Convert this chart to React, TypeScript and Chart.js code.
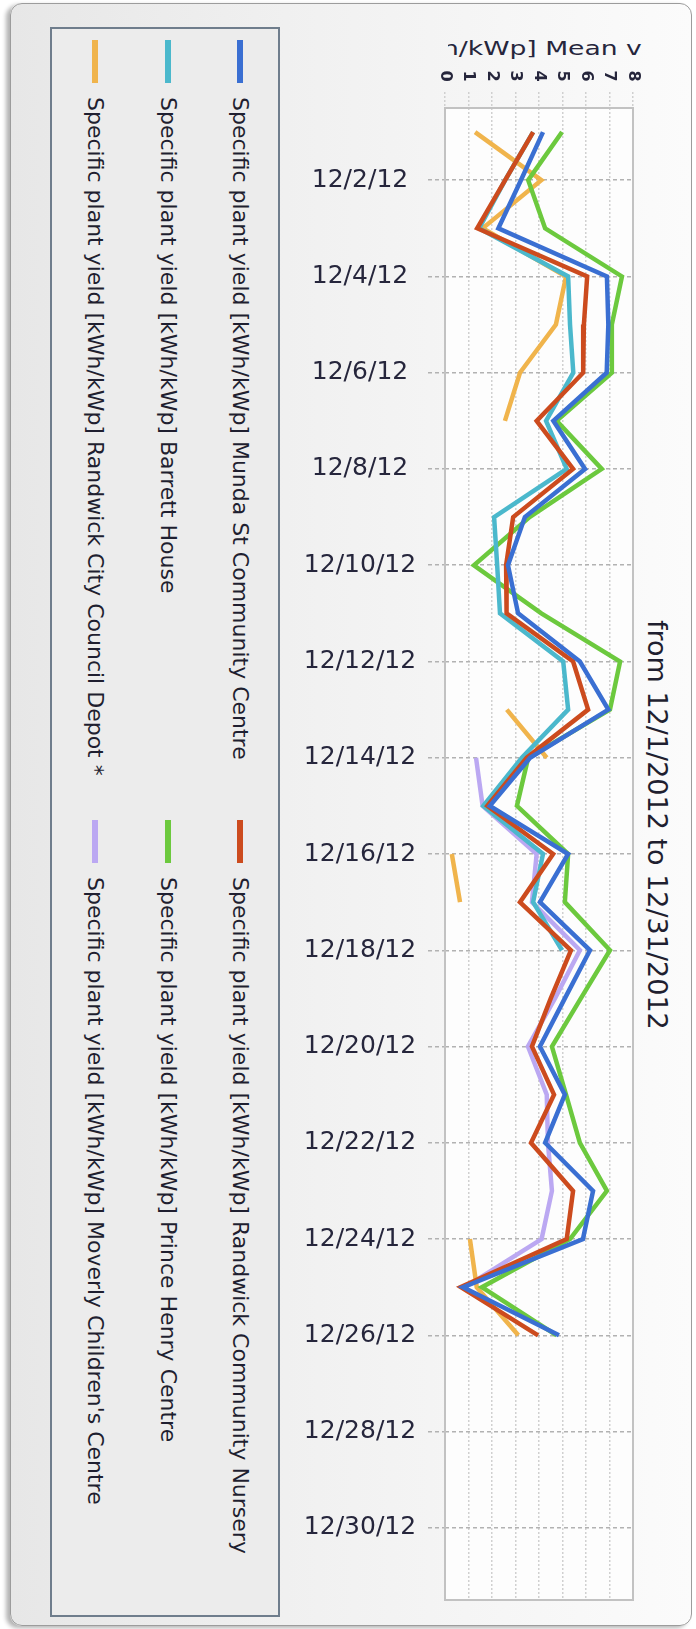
import React, { useEffect, useRef } from "react";
import { Chart, registerables } from "chart.js";

Chart.register(...registerables);

const FONT = '"DejaVu Sans", Verdana, sans-serif';

const dateLabels = [
  "12/1/12", "12/2/12", "12/3/12", "12/4/12", "12/5/12", "12/6/12", "12/7/12", "12/8/12",
  "12/9/12", "12/10/12", "12/11/12", "12/12/12", "12/13/12", "12/14/12", "12/15/12", "12/16/12",
  "12/17/12", "12/18/12", "12/19/12", "12/20/12", "12/21/12", "12/22/12", "12/23/12", "12/24/12",
  "12/25/12", "12/26/12", "12/27/12", "12/28/12", "12/29/12", "12/30/12", "12/31/12",
];

const valueTicks = ["0", "1", "2", "3", "4", "5", "6", "7", "8"];

const mundaSt = [4.17, 3.23, 2.27, 6.89, 6.95, 6.88, 4.61, 5.96, 3.4, 2.68, 3.11, 5.74, 6.95, 3.62, 1.91, 5.24, 4.04, 6.17, 5.1, 4.04, 5.1, 4.26, 6.3, 5.87, 0.77, 4.85, null, null, null, null, null];
const randwickNursery = [3.75, 2.56, 1.37, 6.05, 5.91, 5.88, 3.9, 5.45, 2.9, 2.6, 2.62, 5.45, 6.09, 3.48, 1.8, 4.6, 3.19, 5.36, 4.5, 3.7, 4.64, 3.66, 5.45, 5.18, 0.67, 3.96, null, null, null, null, null];
const barrettHouse = [3.75, 2.56, 1.45, 5.24, 5.32, 5.46, 4.3, 5.18, 2.09, 2.22, 2.34, 5.03, 5.24, 3.27, 1.63, 4.17, 3.75, 4.98, null, null, null, null, null, null, null, null, null, null, null, null, null];
const princeHenry = [4.98, 3.54, 4.26, 7.53, 7.1, 7.1, 4.75, 6.67, 3.6, 1.23, 4.1, 7.45, 7.02, 3.54, 3.06, 5.24, 5.1, 7.02, 5.78, 4.55, 5.15, 5.74, 6.89, 5.32, 1.57, 4.75, null, null, null, null, null];
const councilDepot = [1.28, 4.1, 1.6, 5.15, 4.72, 3.19, 2.55, null, null, null, null, null, 2.63, 4.33, null, 0.29, 0.64, null, null, null, null, null, null, 1.06, 1.35, 3.12, null, null, null, null, null];
const moverly = [null, null, null, null, null, null, null, null, null, null, null, null, null, 1.32, 1.6, 3.9, 3.7, 5.74, 4.68, 3.53, 4.33, 4.38, 4.55, 4.11, 0.85, null, null, null, null, null, null];

const seriesNames = [
  "Specific plant yield [kWh/kWp] Munda St Community Centre",
  "Specific plant yield [kWh/kWp] Randwick Community Nursery",
  "Specific plant yield [kWh/kWp] Barrett House",
  "Specific plant yield [kWh/kWp] Prince Henry Centre",
  "Specific plant yield [kWh/kWp] Randwick City Council Depot *",
  "Specific plant yield [kWh/kWp] Moverly Children's Centre",
];
const seriesColors = ["#3a6fd2", "#cc4b1e", "#4bb8cc", "#6cc93e", "#f0b44c", "#bba8f2"];
const seriesData = [mundaSt, randwickNursery, barrettHouse, princeHenry, councilDepot, moverly];

const titleText = "from 12/1/2012 to 12/31/2012";
const axisTitle = "Specific plant yield [kWh/kWp] Mean value";

// legend grid placement: [rowCenterX, column]
const legendSlots = [
  [240, 0], [240, 1],
  [168, 0], [168, 1],
  [95, 0], [95, 1],
];
const legendColStart = [40, 820];

export default function App() {
  const ref = useRef<HTMLCanvasElement>(null);

  useEffect(() => {
    const canvas = ref.current!;
    const mctx = canvas.getContext("2d")!;
    mctx.font = `25px ${FONT}`;
    const widest = Math.max(
      ...dateLabels.filter((_, i) => i % 2 === 1).map((l) => mctx.measureText(l).width)
    );
    const tickLen = 17;
    const pad = Math.max(0, 85 - tickLen - widest / 2);

    const deco = {
      id: "deco",
      beforeDraw(chart: any) {
        const { ctx, chartArea: a } = chart;
        ctx.save();
        ctx.fillStyle = "#fdfdfd";
        ctx.fillRect(a.left, a.top, a.right - a.left, a.bottom - a.top);
        ctx.restore();
      },
      beforeDatasetsDraw(chart: any) {
        const { ctx, chartArea: a } = chart;
        ctx.save();
        ctx.strokeStyle = "#c2c2c2";
        ctx.lineWidth = 2;
        ctx.strokeRect(a.left, a.top, a.right - a.left, a.bottom - a.top);
        ctx.restore();
      },
      afterDraw(chart: any) {
        const xs = chart.scales.x;
        const c = chart.ctx;
        c.save();
        c.fillStyle = "#26263c";
        c.font = `bold 16px ${FONT}`;
        c.textAlign = "center";
        c.textBaseline = "middle";
        valueTicks.forEach((t) => {
          const x = xs.getPixelForValue(Number(t));
          c.save();
          c.translate(x, 76);
          c.rotate(Math.PI / 2);
          c.fillText(t, 0, 0);
          c.restore();
        });
        c.restore();
      },
    };

    const chart = new Chart(canvas, {
      type: "line",
      data: {
        labels: dateLabels,
        datasets: seriesData.map((d, i) => ({
          label: seriesNames[i],
          data: d,
          borderColor: seriesColors[i],
          backgroundColor: seriesColors[i],
          borderWidth: 4.5,
          pointRadius: 0,
          tension: 0,
          spanGaps: false,
          fill: false,
        })),
      },
      options: {
        indexAxis: "y",
        responsive: false,
        maintainAspectRatio: false,
        animation: false,
        layout: { padding: { left: 0, right: 27, top: 0, bottom: 29 } },
        plugins: {
          legend: { display: false },
          tooltip: { enabled: false },
          title: { display: false },
        },
        scales: {
          x: {
            type: "linear",
            position: "top",
            min: 0,
            max: 8,
            ticks: { display: false, stepSize: 1 },
            grid: {
              color: "#d0d0d0",
              lineWidth: 1.5,
              drawTicks: true,
              tickLength: 16,
              tickColor: "#d0d0d0",
              tickWidth: 1.5,
              tickBorderDash: [2, 2],
            },
            border: { display: false, dash: [2, 2] },
            afterFit: (s: any) => {
              s.height = 108;
            },
          },
          y: {
            type: "category",
            position: "left",
            offset: true,
            grid: {
              offset: false,
              color: (c: any) => (c.index % 2 === 1 ? "#b2b2b2" : "rgba(0,0,0,0)"),
              tickColor: (c: any) => (c.index % 2 === 1 ? "#b2b2b2" : "rgba(0,0,0,0)"),
              lineWidth: 1.5,
              tickWidth: 1.5,
              drawTicks: true,
              tickLength: tickLen,
              tickBorderDash: [4, 3],
            },
            border: { display: false, dash: [4, 3] },
            ticks: {
              autoSkip: false,
              callback: (_v: any, i: number) => (i % 2 === 1 ? dateLabels[i] : ""),
              font: { family: FONT, size: 25 },
              color: "#26263c",
              crossAlign: "center",
              padding: pad,
            },
            afterFit: (s: any) => {
              s.width = 165;
            },
          },
        },
      } as any,
      plugins: [deco],
    });
    return () => chart.destroy();
  }, []);

  return (
    <div
      style={{
        position: "absolute",
        left: 0,
        top: 0,
        width: 696,
        height: 1629,
        overflow: "hidden",
        background: "#ffffff",
        fontFamily: FONT,
      }}
    >
      <div
        style={{
          position: "absolute",
          left: 10,
          top: 3,
          width: 680,
          height: 1621,
          border: "1.5px solid #9c9c9c",
          borderRadius: 12,
          background: "linear-gradient(to right, #e7e7e7 0%, #f1f1f1 45%, #fbfbfb 100%)",
          boxShadow: "-4px 2px 4px rgba(0,0,0,0.3)",
        }}
      />
      <div
        style={{
          position: "absolute",
          left: 50,
          top: 27,
          width: 226,
          height: 1586,
          border: "2px solid #6f7d8c",
          background: "#ececec",
        }}
      />
      {seriesNames.map((name, i) => {
        const [xc, col] = legendSlots[i];
        const y0 = legendColStart[col];
        return (
          <React.Fragment key={name}>
            <div
              style={{
                position: "absolute",
                left: xc - 3,
                top: y0,
                width: 6,
                height: 43,
                background: seriesColors[i],
              }}
            />
            <div
              style={{
                position: "absolute",
                left: xc - 14,
                top: y0 + 57,
                width: 28,
                writingMode: "vertical-rl",
                whiteSpace: "nowrap",
                fontSize: 22,
                lineHeight: "28px",
                color: "#1f1f30",
              }}
            >
              {name}
            </div>
          </React.Fragment>
        );
      })}
      <div
        style={{
          position: "absolute",
          left: 641,
          top: 620,
          width: 32,
          writingMode: "vertical-rl",
          whiteSpace: "nowrap",
          fontSize: 27,
          lineHeight: "32px",
          color: "#1f1f30",
        }}
      >
        {titleText}
      </div>
      <div
        style={{
          position: "absolute",
          left: 448,
          top: 34,
          width: 194,
          height: 28,
          overflow: "hidden",
        }}
      >
        <div
          style={{
            position: "absolute",
            right: -57,
            top: 0,
            whiteSpace: "nowrap",
            fontSize: 19,
            lineHeight: "28px",
            color: "#26263c",
            transform: "scaleX(1.4)",
            transformOrigin: "right center",
          }}
        >
          {axisTitle}
        </div>
      </div>
      <canvas
        ref={ref}
        width={380}
        height={1629}
        style={{ position: "absolute", left: 280, top: 0, width: 380, height: 1629 }}
      />
    </div>
  );
}
